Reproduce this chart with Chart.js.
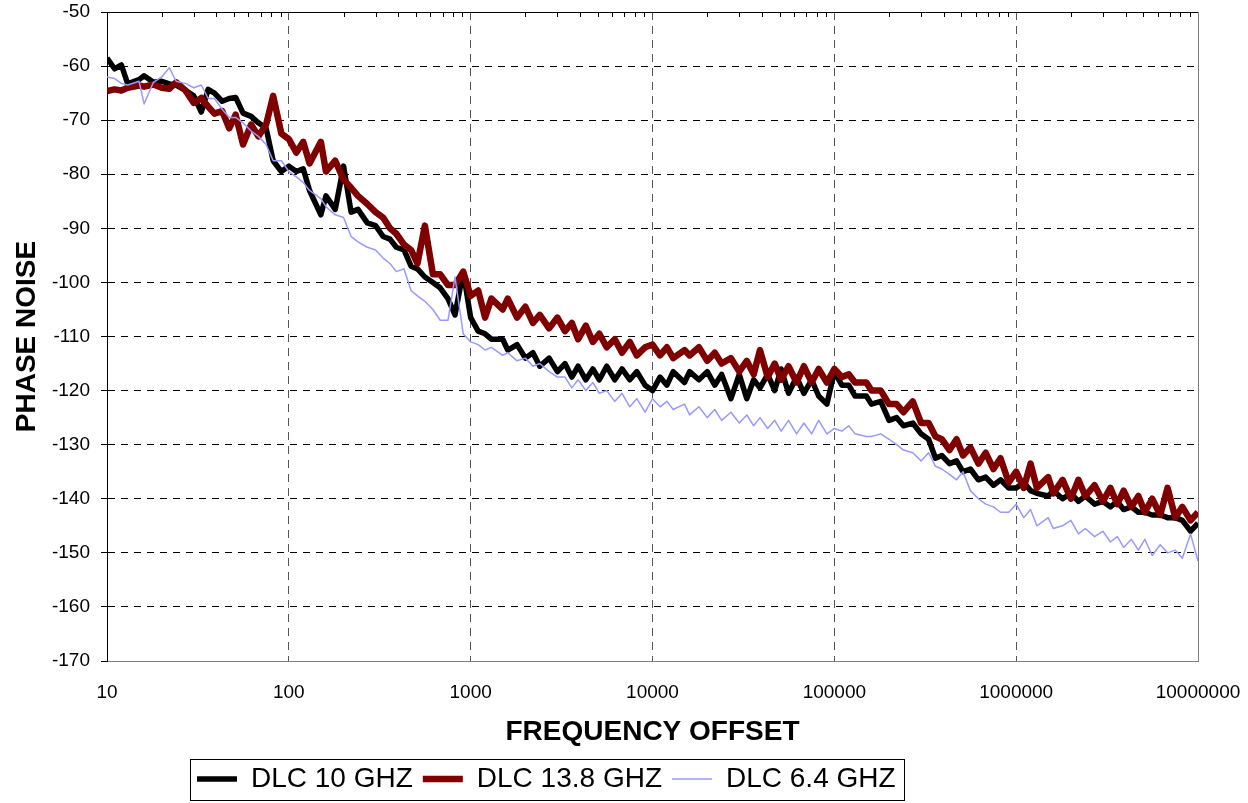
<!DOCTYPE html>
<html>
<head>
<meta charset="utf-8">
<script src="https://cdn.jsdelivr.net/npm/chart.js@4.4.1/dist/chart.umd.min.js"></script>
<style>
html, body { margin: 0; padding: 0; background: #fff; }
#wrap { width: 1248px; height: 803px; position: relative; }
</style>
</head>
<body>
<div id="wrap"><canvas id="noiseChart"></canvas></div>
<script>
// frequency offsets (Hz), E24 steps per decade
const freq = [
    10, 11, 12, 13, 15, 16, 18, 20, 22, 24, 27, 30, 33, 36, 39, 43, 47, 51, 56, 62, 68, 75, 82, 91,
    100, 110, 120, 130, 150, 160, 180, 200, 220, 240, 270, 300, 330, 360, 390, 430, 470, 510, 560, 620, 680, 750, 820, 910,
    1000, 1100, 1200, 1300, 1500, 1600, 1800, 2000, 2200, 2400, 2700, 3000, 3300, 3600, 3900, 4300, 4700, 5100, 5600, 6200, 6800, 7500, 8200, 9100,
    10000, 11000, 12000, 13000, 15000, 16000, 18000, 20000, 22000, 24000, 27000, 30000, 33000, 36000, 39000, 43000, 47000, 51000, 56000, 62000, 68000, 75000, 82000, 91000,
    100000, 110000, 120000, 130000, 150000, 160000, 180000, 200000, 220000, 240000, 270000, 300000, 330000, 360000, 390000, 430000, 470000, 510000, 560000, 620000, 680000, 750000, 820000, 910000,
    1000000, 1100000, 1200000, 1300000, 1500000, 1600000, 1800000, 2000000, 2200000, 2400000, 2700000, 3000000, 3300000, 3600000, 3900000, 4300000, 4700000, 5100000, 5600000, 6200000, 6800000, 7500000, 8200000, 9100000,
    10000000
];

const dlc10 = [
    -58.5, -60.5, -59.8, -63.3, -62.5, -61.8, -63, -62.8, -63.3, -63.5, -64.5, -65.5, -68.5, -64.3, -65, -66.5, -66, -65.8, -68.7, -69.3, -70.5, -71.5, -77.5, -79.5,
    -78.5, -79.5, -79, -83, -87.5, -84, -86.5, -78.5, -87, -86.5, -89, -89.5, -91.5, -92, -93.5, -94, -97, -97.5, -99, -100, -101, -103, -106, -98,
    -106.5, -109, -109.5, -110.5, -110.5, -112.5, -111.5, -114, -113, -115.5, -114, -116.5, -115, -117.5, -115.5, -118, -116, -118, -115.5, -118, -116, -118, -116.5, -119,
    -120, -117.5, -119, -116.5, -118.5, -116.5, -118, -116.5, -119, -117, -121.5, -117, -121.5, -118, -119.5, -117, -120, -116, -120.5, -117.5, -120.5, -118, -121, -122.5,
    -116.5, -119, -119, -121, -121, -122.5, -122, -125.5, -125, -126.5, -126, -128, -129, -132.5, -132, -133.5, -133, -135, -134.5, -136.5, -136, -137.5, -136.5, -138,
    -138, -137, -138.5, -139, -139.5, -138.5, -140, -139, -140.5, -139.5, -141, -140.5, -141.5, -140.5, -142, -141.5, -142.5, -142.5, -143, -143, -143.5, -143.5, -144, -146,
    -144.5
];

const dlc138 = [
    -64.6, -64.3, -64.5, -64, -63.6, -63.8, -63.4, -64, -64.2, -63, -64.5, -66.8, -65.9, -67.5, -68.8, -68.3, -71.5, -69, -74.5, -70.8, -73, -70.8, -65.5, -72.5,
    -73.5, -76, -74, -78, -74, -79.5, -77.5, -81, -82.5, -84, -85.5, -87, -88, -90, -91, -93, -94, -96.5, -89.5, -98.5, -98.5, -100.5, -100.5, -98,
    -102.5, -101.5, -106.5, -103, -105, -103, -106.5, -104.5, -107.5, -106, -108.5, -106.5, -109, -107.5, -110.5, -108, -111, -109.5, -112, -110.5, -113, -111, -113.5, -112,
    -111.5, -113.5, -112, -114, -112.5, -113.5, -112, -114.5, -113, -115, -114, -116.5, -114.5, -117, -112.5, -117.5, -115, -118, -115.5, -118.5, -115.5, -118.5, -116, -118.5,
    -116, -117.5, -117, -118.5, -118.5, -120, -120, -122.5, -122.5, -124, -122, -126, -126, -128.5, -129, -131, -129, -132, -130.5, -133.5, -131.5, -134.5, -132.5, -137,
    -135, -138, -133.5, -138, -136, -139, -136.5, -140, -136.5, -139.5, -137.5, -140.5, -138, -141, -138.5, -141.5, -139.5, -142.5, -140, -143, -138, -143.5, -141.5, -144,
    -142.5
];

const dlc64 = [
    -62, -62.3, -63.2, -63.5, -62.8, -67, -63, -62, -60.3, -62.8, -63.2, -64, -63.5, -66, -66, -68, -69.5, -69.5, -70.5, -72, -73, -74.5, -77.5, -77.5,
    -79.5, -80.5, -81.5, -83, -84.5, -86, -87.5, -88, -91.5, -92.5, -93.5, -94, -95.5, -96.5, -98, -97.5, -101.5, -102.5, -103.5, -105, -107, -107, -99, -109.5,
    -111, -111.5, -112.5, -112, -113.5, -113, -114.5, -114, -115.5, -115, -116.5, -117.5, -117.5, -119.5, -118, -120, -118.5, -120.5, -120, -122, -120.5, -123, -121.5, -124,
    -121.5, -123, -122, -123.5, -122.5, -124.5, -123, -125, -123.5, -125.5, -124, -126, -124.5, -126.5, -125, -127, -125.5, -127.5, -125.5, -128, -126, -128, -125.5, -128,
    -127, -127.5, -126.5, -128, -128.5, -128.5, -128, -129, -130, -131, -131.5, -133, -131.5, -134, -134.5, -135.5, -136.5, -135, -138.5, -140, -141, -141.5, -142.5, -142.5,
    -141, -143.5, -142, -145, -143.5, -145.5, -145, -144, -146.5, -145.5, -147, -146, -148, -147, -149, -147.5, -149.5, -147.5, -150.5, -148.5, -150, -149.5, -151, -146.5,
    -151.5
];

const xTicks = [10, 100, 1000, 10000, 100000, 1000000, 10000000];
const seriesNames = ['DLC 10 GHZ', 'DLC 13.8 GHZ', 'DLC 6.4 GHZ'];
const seriesColors = ['#000000', '#800000', '#9999ff'];
const seriesWidths = [5.5, 6.5, 1.5];

const FONT = "Arial, 'Liberation Sans', sans-serif";
Chart.defaults.font.family = FONT;
Chart.defaults.color = '#000';

function points(values) {
    return freq.map((f, i) => ({ x: f, y: values[i] }));
}

// top/right frame, minor ticks on the top edge, box round the legend
const frame = {
    id: 'frame',
    afterLayout(chart) {
        const lg = chart.legend;
        const pad = lg.options.labels.padding;
        const start = (lg.left + pad + lg.right - lg.lineWidths[0]) / 2;
        const shift = 197 - start;
        lg.left += shift;
        lg.right += shift;
    },
    beforeDatasetsDraw(chart) {
        const { ctx, chartArea: a, scales: { x } } = chart;
        ctx.save();
        ctx.lineWidth = 1;
        ctx.strokeStyle = '#000';
        ctx.beginPath();
        ctx.moveTo(a.left, a.top + 0.5);
        ctx.lineTo(a.right, a.top + 0.5);
        for (let k = 10; k < 1e7; k *= 10) {
            for (let m = 2; m < 10; m++) {
                const px = Math.round(x.getPixelForValue(m * k)) + 0.5;
                ctx.moveTo(px, a.top);
                ctx.lineTo(px, a.top + 5);
            }
        }
        ctx.stroke();
        ctx.strokeStyle = '#808080';
        ctx.beginPath();
        ctx.moveTo(Math.round(a.right) + 0.5, a.top);
        ctx.lineTo(Math.round(a.right) + 0.5, a.bottom);
        ctx.stroke();
        ctx.restore();
    },
    afterDraw(chart) {
        const lg = chart.legend;
        const pad = lg.options.labels.padding;
        const size = lg.options.labels.font.size;
        const start = (lg.left + pad + lg.right - lg.lineWidths[0]) / 2;
        const end = start + lg.lineWidths[0] - pad;
        const cy = lg.top + pad + size / 2;
        const ctx = chart.ctx;
        ctx.save();
        ctx.strokeStyle = '#000';
        ctx.lineWidth = 1;
        ctx.strokeRect(Math.round(start - 7) + 0.5, Math.round(cy - 20) + 0.5, Math.round(end - start + 15), 41);
        ctx.restore();
    }
};

const ctx = document.getElementById('noiseChart').getContext('2d');
new Chart(ctx, {
    type: 'line',
    data: {
        datasets: [dlc10, dlc138, dlc64].map((vals, i) => ({
            label: seriesNames[i],
            data: points(vals),
            borderColor: seriesColors[i],
            backgroundColor: seriesColors[i],
            borderWidth: seriesWidths[i],
            pointRadius: 0,
            tension: 0,
            fill: false,
            borderJoinStyle: 'round',
            order: 3 - i
        }))
    },
    options: {
        responsive: true,
        maintainAspectRatio: false,
        animation: false,
        layout: { padding: { top: 12, right: 50, bottom: 0, left: 0 } },
        plugins: {
            tooltip: { enabled: false },
            legend: {
                position: 'bottom',
                labels: {
                    font: { size: 28, family: FONT },
                    color: '#000',
                    usePointStyle: true,
                    pointStyle: 'line',
                    pointStyleWidth: 40,
                    padding: 10,
                    sort: (a, b) => a.datasetIndex - b.datasetIndex
                }
            }
        },
        scales: {
            x: {
                type: 'logarithmic',
                min: 10,
                max: 10000000,
                afterBuildTicks: (s) => { s.ticks = xTicks.map(v => ({ value: v })); },
                afterFit: (s) => { s.height = 94; s.paddingLeft = 0; s.paddingRight = 0; },
                ticks: {
                    font: { size: 19 },
                    padding: 20,
                    maxRotation: 0,
                    autoSkip: false,
                    callback: (v) => String(v)
                },
                grid: { color: '#555', drawTicks: false },
                border: { color: '#808080', width: 1, dash: [8, 6] },
                title: {
                    display: true,
                    text: 'FREQUENCY OFFSET',
                    font: { size: 28, weight: 'bold' },
                    padding: { top: 0, bottom: 6 }
                }
            },
            y: {
                min: -170,
                max: -50,
                afterFit: (s) => { s.width = 107; s.paddingTop = 0; s.paddingBottom = 0; },
                ticks: {
                    stepSize: 10,
                    font: { size: 19 },
                    padding: 11,
                    callback: (v) => String(v)
                },
                grid: {
                    color: (c) => (c.tick && c.tick.value === -170) ? 'rgba(0,0,0,0)' : '#000',
                    tickLength: 6,
                    tickColor: '#000'
                },
                border: { color: '#000', width: 1, dash: [7, 6] },
                title: {
                    display: true,
                    text: 'PHASE NOISE',
                    font: { size: 28, weight: 'bold' },
                    padding: { top: 10, bottom: 0 }
                }
            }
        }
    },
    plugins: [frame]
});
</script>
</body>
</html>
